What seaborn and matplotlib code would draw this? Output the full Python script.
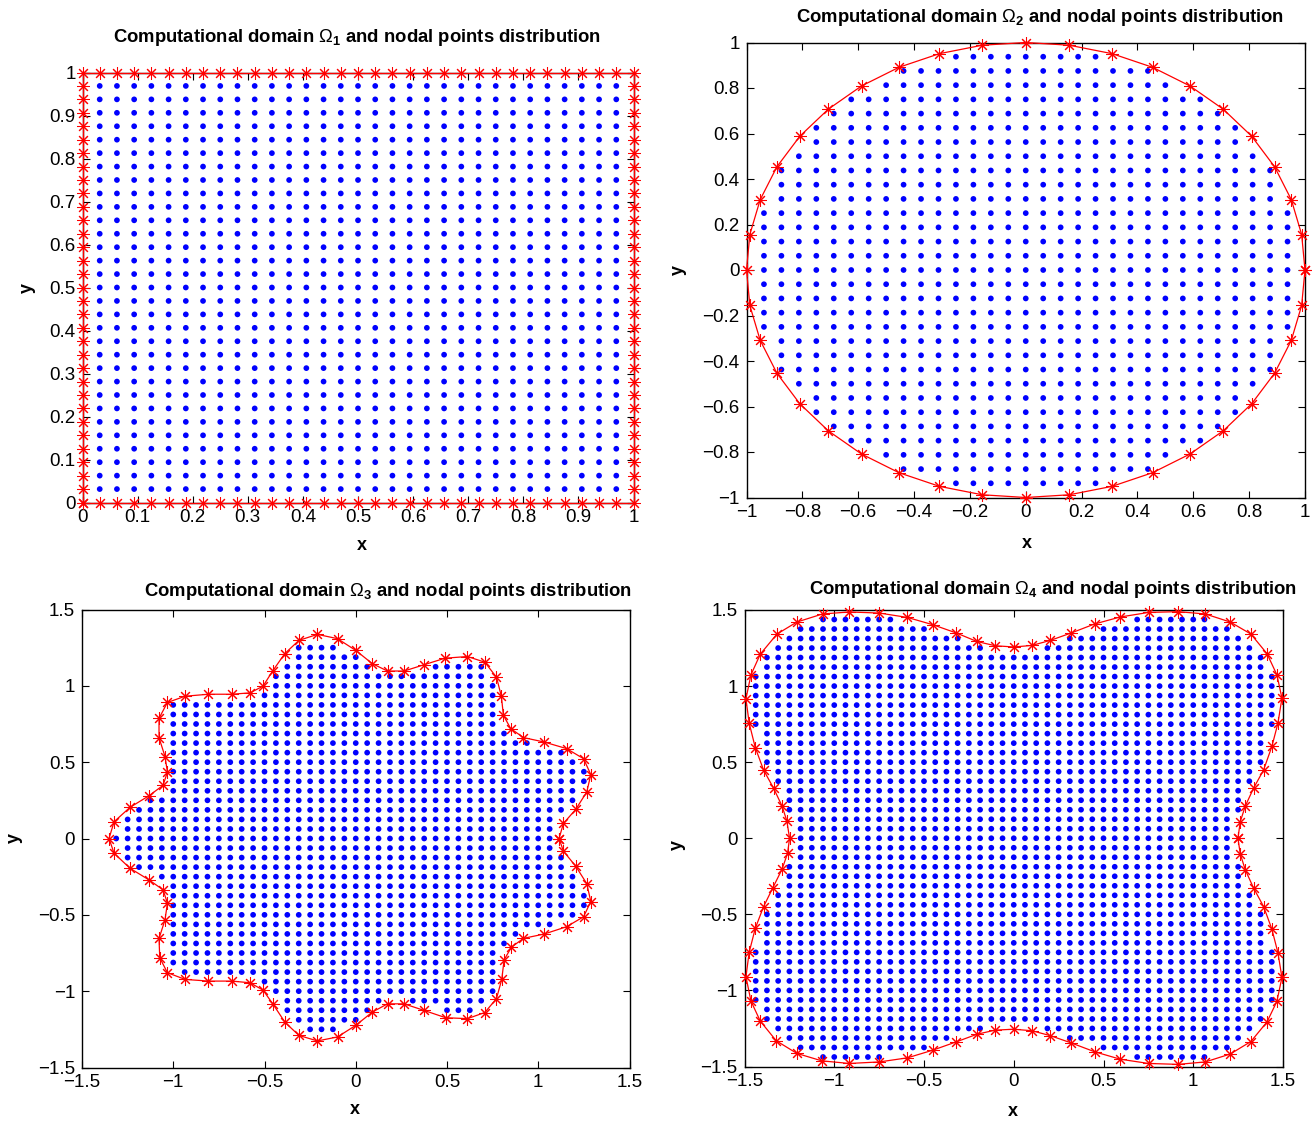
import numpy as np
import matplotlib
matplotlib.use("Agg")
import matplotlib.pyplot as plt
from matplotlib.path import Path
from matplotlib.ticker import FixedLocator, FixedFormatter
import seaborn as sns

# ---------------- data ----------------
# Domain 1: unit square, nodes along each side (spacing 1/32)
sq_nodes = [0.0, 0.03125, 0.0625, 0.09375, 0.125, 0.15625, 0.1875, 0.21875, 0.25,
            0.28125, 0.3125, 0.34375, 0.375, 0.40625, 0.4375, 0.46875, 0.5,
            0.53125, 0.5625, 0.59375, 0.625, 0.65625, 0.6875, 0.71875, 0.75,
            0.78125, 0.8125, 0.84375, 0.875, 0.90625, 0.9375, 0.96875, 1.0]

# Interior grid lines for domains 2-4 (spacing 1/16)
grid16 = [-1.5, -1.4375, -1.375, -1.3125, -1.25, -1.1875, -1.125, -1.0625, -1.0,
          -0.9375, -0.875, -0.8125, -0.75, -0.6875, -0.625, -0.5625, -0.5,
          -0.4375, -0.375, -0.3125, -0.25, -0.1875, -0.125, -0.0625, 0.0,
          0.0625, 0.125, 0.1875, 0.25, 0.3125, 0.375, 0.4375, 0.5, 0.5625,
          0.625, 0.6875, 0.75, 0.8125, 0.875, 0.9375, 1.0, 1.0625, 1.125,
          1.1875, 1.25, 1.3125, 1.375, 1.4375, 1.5]

# Domain 2: circle boundary nodes (40)
d2_bx = [1.000, 0.988, 0.951, 0.891, 0.809, 0.707, 0.588, 0.454, 0.309, 0.156,
         0.000, -0.156, -0.309, -0.454, -0.588, -0.707, -0.809, -0.891, -0.951, -0.988,
         -1.000, -0.988, -0.951, -0.891, -0.809, -0.707, -0.588, -0.454, -0.309, -0.156,
         0.000, 0.156, 0.309, 0.454, 0.588, 0.707, 0.809, 0.891, 0.951, 0.988]
d2_by = [0.000, 0.156, 0.309, 0.454, 0.588, 0.707, 0.809, 0.891, 0.951, 0.988,
         1.000, 0.988, 0.951, 0.891, 0.809, 0.707, 0.588, 0.454, 0.309, 0.156,
         0.000, -0.156, -0.309, -0.454, -0.588, -0.707, -0.809, -0.891, -0.951, -0.988,
         -1.000, -0.988, -0.951, -0.891, -0.809, -0.707, -0.588, -0.454, -0.309, -0.156]

# Domain 3: wavy boundary nodes (80)
d3_bx = [1.114, 1.138, 1.205, 1.266, 1.288, 1.248, 1.155, 1.032, 0.919, 0.849,
         0.809, 0.798, 0.771, 0.707, 0.612, 0.489, 0.374, 0.265, 0.174, 0.091,
         0.000, -0.100, -0.210, -0.311, -0.389, -0.456, -0.508, -0.579, -0.679, -0.807,
         -0.935, -1.032, -1.078, -1.078, -1.045, -1.032, -1.056, -1.133, -1.237, -1.324,
         -1.352, -1.324, -1.237, -1.133, -1.056, -1.032, -1.045, -1.078, -1.074, -1.032,
         -0.935, -0.807, -0.679, -0.579, -0.508, -0.453, -0.387, -0.311, -0.210, -0.100,
         0.000, 0.091, 0.174, 0.265, 0.374, 0.493, 0.612, 0.707, 0.771, 0.800,
         0.813, 0.853, 0.919, 1.032, 1.155, 1.248, 1.288, 1.266, 1.205, 1.138]
d3_by = [0.000, 0.099, 0.190, 0.305, 0.419, 0.523, 0.589, 0.632, 0.661, 0.720,
         0.807, 0.931, 1.057, 1.155, 1.192, 1.181, 1.138, 1.097, 1.097, 1.145,
         1.232, 1.309, 1.337, 1.298, 1.211, 1.096, 0.998, 0.954, 0.945, 0.945,
         0.932, 0.891, 0.787, 0.660, 0.537, 0.435, 0.348, 0.280, 0.204, 0.110,
         0.000, -0.097, -0.195, -0.271, -0.336, -0.423, -0.532, -0.655, -0.781, -0.879,
         -0.923, -0.934, -0.934, -0.945, -0.993, -1.086, -1.205, -1.290, -1.326, -1.300,
         -1.224, -1.137, -1.083, -1.083, -1.126, -1.174, -1.180, -1.140, -1.049, -0.923,
         -0.795, -0.712, -0.654, -0.626, -0.578, -0.513, -0.413, -0.296, -0.181, -0.083]

# Domain 4: four-lobed boundary nodes (80)
d4_bx = [1.249, 1.262, 1.290, 1.336, 1.392, 1.438, 1.472, 1.494, 1.466, 1.411,
         1.321, 1.206, 1.067, 0.915, 0.751, 0.593, 0.450, 0.320, 0.203, 0.101,
         0.000, -0.103, -0.205, -0.320, -0.450, -0.592, -0.749, -0.916, -1.065, -1.208,
         -1.319, -1.412, -1.464, -1.492, -1.474, -1.440, -1.394, -1.338, -1.291, -1.264,
         -1.249, -1.260, -1.291, -1.342, -1.394, -1.440, -1.474, -1.492, -1.464, -1.412,
         -1.323, -1.208, -1.069, -0.916, -0.749, -0.592, -0.452, -0.320, -0.205, -0.103,
         0.000, 0.101, 0.203, 0.320, 0.450, 0.593, 0.751, 0.915, 1.067, 1.206,
         1.321, 1.411, 1.466, 1.494, 1.472, 1.438, 1.392, 1.336, 1.290, 1.262]
d4_by = [0.000, 0.109, 0.212, 0.329, 0.449, 0.603, 0.757, 0.921, 1.074, 1.213,
         1.342, 1.421, 1.474, 1.489, 1.484, 1.454, 1.408, 1.349, 1.300, 1.267,
         1.257, 1.265, 1.293, 1.349, 1.403, 1.451, 1.480, 1.487, 1.474, 1.421,
         1.342, 1.210, 1.074, 0.916, 0.757, 0.596, 0.449, 0.329, 0.212, 0.114,
         0.000, -0.099, -0.204, -0.325, -0.450, -0.592, -0.750, -0.910, -1.070, -1.202,
         -1.331, -1.414, -1.463, -1.480, -1.470, -1.443, -1.393, -1.338, -1.288, -1.261,
         -1.255, -1.265, -1.297, -1.345, -1.403, -1.452, -1.480, -1.486, -1.470, -1.418,
         -1.336, -1.207, -1.072, -0.915, -0.754, -0.597, -0.449, -0.327, -0.208, -0.104]

# tick values / labels
ticks_01 = [0, 0.1, 0.2, 0.3, 0.4, 0.5, 0.6, 0.7, 0.8, 0.9, 1]
ticklab_01 = ["0", "0.1", "0.2", "0.3", "0.4", "0.5", "0.6", "0.7", "0.8", "0.9", "1"]
ticks_c = [-1, -0.8, -0.6, -0.4, -0.2, 0, 0.2, 0.4, 0.6, 0.8, 1]
ticklab_c = ["\u22121", "\u22120.8", "\u22120.6", "\u22120.4", "\u22120.2", "0",
             "0.2", "0.4", "0.6", "0.8", "1"]
ticks_15 = [-1.5, -1, -0.5, 0, 0.5, 1, 1.5]
ticklab_15 = ["\u22121.5", "\u22121", "\u22120.5", "0", "0.5", "1", "1.5"]

titles = ["Computational domain $\\Omega_{\\mathbf{1}}$ and nodal points distribution",
          "Computational domain $\\Omega_{\\mathbf{2}}$ and nodal points distribution",
          "Computational domain $\\Omega_{\\mathbf{3}}$ and nodal points distribution",
          "Computational domain $\\Omega_{\\mathbf{4}}$ and nodal points distribution"]

# ---------------- style ----------------
sns.set_theme(style="ticks")
plt.rcParams["font.family"] = ["Liberation Sans", "DejaVu Sans"]
plt.rcParams["mathtext.fontset"] = "custom"
plt.rcParams["mathtext.rm"] = "Liberation Sans"
plt.rcParams["mathtext.bf"] = "Liberation Sans:bold"
plt.rcParams["axes.unicode_minus"] = True
plt.rcParams["text.color"] = "black"
plt.rcParams["axes.labelcolor"] = "black"
plt.rcParams["xtick.color"] = "black"
plt.rcParams["ytick.color"] = "black"

W, H = 1314, 1121
fig = plt.figure(figsize=(W / 100, H / 100), dpi=100)
fig.patch.set_facecolor("white")

# axes rectangles in pixels: left, top, right, bottom
rects = [(82.5, 72.5, 633.5, 502.5),
         (746.5, 42.5, 1305.0, 497.5),
         (82.0, 609.5, 629.5, 1067.5),
         (744.5, 610.0, 1283.0, 1066.5)]
title_pos = [(357, 38), (1040, 18), (388, 591), (1053, 590)]
xlab_pos = [(362, 546), (1027, 543), (355, 1110), (1013, 1111)]
ylab_pos = [(27, 288), (678, 270), (14, 838), (677, 845)]


def make_ax(r):
    l, t, rr, b = r
    return fig.add_axes([l / W, 1 - b / H, (rr - l) / W, (b - t) / H])


def seg_dist(pts, poly):
    a = poly
    bnext = np.roll(poly, -1, axis=0)
    ab = bnext - a
    ap = pts[:, None, :] - a[None, :, :]
    t = np.clip((ap * ab).sum(-1) / (ab * ab).sum(-1), 0, 1)
    proj = a[None] + t[..., None] * ab[None]
    return np.linalg.norm(pts[:, None, :] - proj, axis=-1).min(axis=1)


def interior(bx, by, gx, gy, margin):
    poly = np.column_stack([bx, by])
    X, Y = np.meshgrid(gx, gy)
    pts = np.column_stack([X.ravel(), Y.ravel()])
    inside = Path(poly).contains_points(pts)
    pts = pts[inside]
    d = seg_dist(pts, poly)
    pts = pts[d > margin]
    return pts[:, 0], pts[:, 1]


def draw(ax, bx, by, ix, iy):
    sns.scatterplot(x=ix, y=iy, ax=ax, color="#0000ff", s=17, linewidth=0,
                    edgecolor="none", zorder=2, legend=False)
    cx = np.append(bx, bx[0])
    cy = np.append(by, by[0])
    sns.lineplot(x=cx, y=cy, ax=ax, sort=False, estimator=None, color="#ff0000",
                 linewidth=0.9, marker=(8, 2, 0), markersize=9,
                 markeredgewidth=0.75, markeredgecolor="#ff0000",
                 markerfacecolor="#ff0000", zorder=3, clip_on=False, legend=False)


def style(ax, i, ticks, labels, lim):
    ax.set_xlim(lim)
    ax.set_ylim(lim)
    ax.xaxis.set_major_locator(FixedLocator(ticks))
    ax.xaxis.set_major_formatter(FixedFormatter(labels))
    ax.yaxis.set_major_locator(FixedLocator(ticks))
    ax.yaxis.set_major_formatter(FixedFormatter(labels))
    ax.tick_params(direction="in", top=True, right=True, length=5, width=0.8,
                   labelsize=13.5, colors="black", pad=5)
    for s in ax.spines.values():
        s.set_visible(True)
        s.set_color("black")
        s.set_linewidth(1.0)
    ax.set_facecolor("white")
    l, t, rr, b = rects[i]
    ax.set_xlabel("x", fontsize=13, fontweight="bold")
    ax.set_ylabel("y", fontsize=13, fontweight="bold")
    xl = xlab_pos[i]
    yl = ylab_pos[i]
    ax.xaxis.set_label_coords((xl[0] - l) / (rr - l), (b - xl[1]) / (b - t))
    ax.yaxis.set_label_coords((yl[0] - l) / (rr - l), (b - yl[1]) / (b - t))
    ax.xaxis.label.set_va("center")
    ax.xaxis.label.set_ha("center")
    ax.yaxis.label.set_va("center")
    ax.yaxis.label.set_ha("center")
    tp = title_pos[i]
    fig.text(tp[0] / W, 1 - tp[1] / H, titles[i], ha="center", va="center",
             fontsize=13.3, fontweight="bold", color="black")


# Domain 1
ax1 = make_ax(rects[0])
sq = np.array(sq_nodes)
b1x = np.concatenate([sq[:-1], np.ones(32), sq[::-1][:-1], np.zeros(32)])
b1y = np.concatenate([np.zeros(32), sq[:-1], np.ones(32), sq[::-1][:-1]])
X1, Y1 = np.meshgrid(sq[1:-1], sq[1:-1])
draw(ax1, b1x, b1y, X1.ravel(), Y1.ravel())
style(ax1, 0, ticks_01, ticklab_01, (0, 1))

# Domain 2
ax2 = make_ax(rects[1])
ix2, iy2 = interior(d2_bx, d2_by, grid16, grid16, 0.018)
draw(ax2, np.array(d2_bx), np.array(d2_by), ix2, iy2)
style(ax2, 1, ticks_c, ticklab_c, (-1, 1))

# Domain 3
ax3 = make_ax(rects[2])
ix3, iy3 = interior(d3_bx, d3_by, grid16, grid16, 0.026)
draw(ax3, np.array(d3_bx), np.array(d3_by), ix3, iy3)
style(ax3, 2, ticks_15, ticklab_15, (-1.5, 1.5))

# Domain 4
ax4 = make_ax(rects[3])
ix4, iy4 = interior(d4_bx, d4_by, grid16, grid16, 0.025)
draw(ax4, np.array(d4_bx), np.array(d4_by), ix4, iy4)
style(ax4, 3, ticks_15, ticklab_15, (-1.5, 1.5))

fig.savefig("out.png", dpi=100, facecolor="white")
